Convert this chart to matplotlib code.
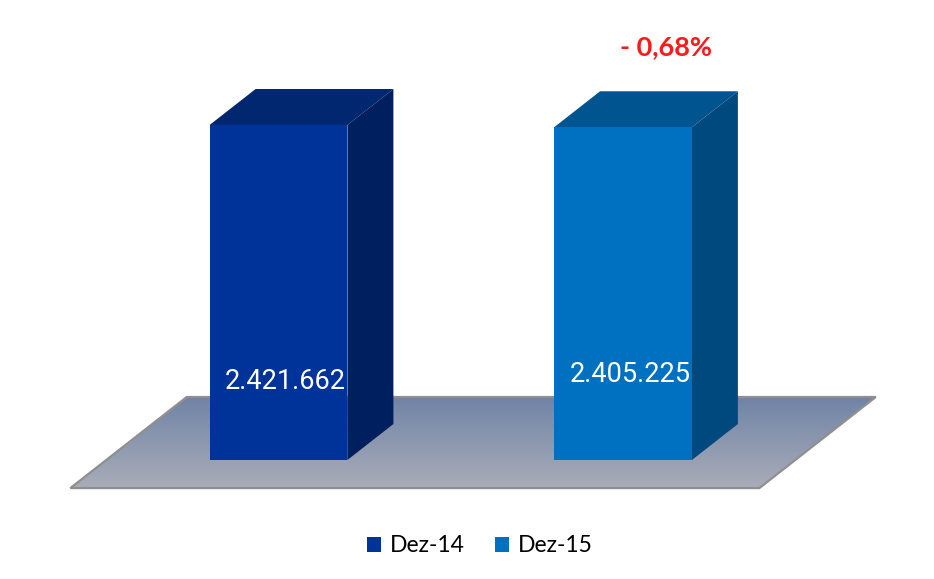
import numpy as np
import matplotlib.pyplot as plt
from matplotlib.patches import Polygon, Patch
from matplotlib.colors import LinearSegmentedColormap

# ── Data ─────────────────────────────────────────────────────
categories = ['Dez-14', 'Dez-15']
values = [2421662, 2405225]
value_labels = ['2.421.662', '2.405.225']
change_label = '- 0,68%'

front_colors = ['#003399', '#0070C0']
top_colors = ['#00276f', '#005590']
side_colors = ['#001f5e', '#00497f']

# ── Geometry (pseudo-3D) ─────────────────────────────────────
W, H = 934, 579
x_px = 344.5                      # pixels per category step
y_px = 335 / max(values)          # pixels per value unit
x0_px, y0_px = 278.5, 119         # pixel position of category 0 / value 0

bar_w = 0.4
dx = 46 / x_px                    # depth offset in x units
dy = 36 / y_px                    # depth offset in value units

fig = plt.figure(figsize=(W / 100, H / 100), dpi=100)
ax = fig.add_axes([0, 0, 1, 1])
ax.set_xlim(-x0_px / x_px, (W - x0_px) / x_px)
ax.set_ylim(-y0_px / y_px, (H - y0_px) / y_px)
ax.axis('off')

# floor with vertical gradient
d_front, d_back = -0.78, 1.75
fl = [(-0.5 + d_front * dx, d_front * dy), (1.5 + d_front * dx, d_front * dy),
      (1.5 + d_back * dx, d_back * dy), (-0.5 + d_back * dx, d_back * dy)]
floor = Polygon(fl, closed=True, facecolor='none', edgecolor='#8f8f8f', lw=1.6, zorder=2)
ax.add_patch(floor)
cmap = LinearSegmentedColormap.from_list('floor', ['#a9adb8', '#7083a6'])
grad = np.linspace(0, 1, 256).reshape(-1, 1)
img = ax.imshow(grad, cmap=cmap, origin='lower', aspect='auto', zorder=1,
                extent=[fl[0][0], fl[2][0], fl[0][1], fl[2][1]])
img.set_clip_path(floor)

# bars: front faces via ax.bar, tops and sides from bar data
x = np.arange(len(values))
bars = ax.bar(x, values, width=bar_w, color=front_colors, zorder=4)
for b, v, tc, sc in zip(bars, values, top_colors, side_colors):
    l, r = b.get_x(), b.get_x() + b.get_width()
    ax.add_patch(Polygon([(l, v), (r, v), (r + dx, v + dy), (l + dx, v + dy)],
                         closed=True, facecolor=tc, edgecolor='none', zorder=3))
    ax.add_patch(Polygon([(r, 0), (r + dx, dy), (r + dx, v + dy), (r, v)],
                         closed=True, facecolor=sc, edgecolor='none', zorder=3))

# value labels
label_frac = [0.233, 0.256]
for xi, v, lab, f in zip(x, values, value_labels, label_frac):
    ax.text(xi + 0.02, v * f, lab, ha='center', va='center', color='white',
            fontsize=19.5, family='Roboto', zorder=5)

# change annotation
ax.text(1 + 0.125, values[1] + dy + 44 / y_px, change_label, ha='center', va='center',
        color='#ff1a1a', fontsize=19.5, fontweight='bold', family='Lato')

# legend
handles = [Patch(facecolor=c, edgecolor='none') for c in front_colors]
fig.legend(handles, categories, loc='center', bbox_to_anchor=(480 / W, 1 - 546 / H),
           ncol=2, frameon=False, handlelength=0.6, handleheight=0.6,
           handletextpad=0.4, columnspacing=1.3,
           prop={'family': 'Lato', 'size': 16.5})

fig.savefig('out.png', dpi=100)
